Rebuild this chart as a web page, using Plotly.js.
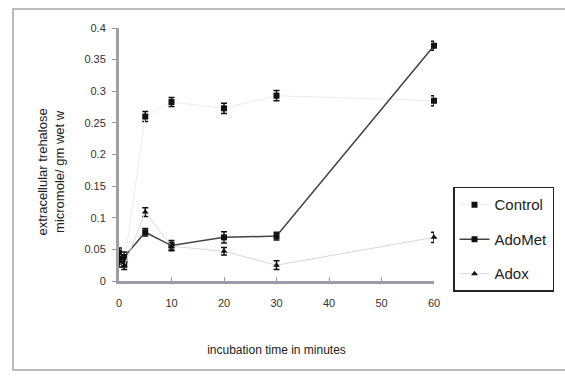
<!DOCTYPE html>
<html><head><meta charset="utf-8">
<script src="https://cdn.plot.ly/plotly-3.0.1.min.js"></script>
<style>
html,body{margin:0;padding:0;background:#fff;}
#frame{position:absolute;left:12px;top:8px;width:560px;height:363px;border:2px solid #bbb;box-sizing:border-box;}
#chart{position:absolute;left:0;top:0;width:565px;height:378px;}
</style></head>
<body>
<div id="frame"></div>
<div id="chart"></div>
<script>
const times = [0, 1, 5, 10, 20, 30, 60];
const tickVals = [0, 10, 20, 30, 40, 50, 60];
const tickText = ['0', '10', '20', '30', '40', '50', '60'];
const control = [0.035, 0.028, 0.26, 0.283, 0.273, 0.293, 0.285];
const controlErr = [0.008, 0.006, 0.008, 0.007, 0.008, 0.008, 0.008];
const adoMet = [0.045, 0.038, 0.077, 0.056, 0.069, 0.071, 0.372];
const adoMetErr = [0.007, 0.008, 0.006, 0.008, 0.009, 0.006, 0.007];
const adox = [0.03, 0.024, 0.109, 0.055, 0.047, 0.025, 0.069];
const adoxErr = [0.008, 0.006, 0.007, 0.006, 0.006, 0.007, 0.008];
const yTitle = 'extracellular trehalose<br>micromole/ gm wet w';

function errObj(a){return {type:'data', array:a, visible:true, color:'#111', thickness:1.5, width:3};}

const traces = [
  {x: times, y: control, name: 'Control', legendgroup:'a', mode: 'lines+markers',
   line:{color:'#ececec', width:1}, marker:{symbol:'square', size:6, color:'#111'},
   error_y: errObj(controlErr), cliponaxis:false},
  {x: times, y: adoMet, name: 'AdoMet', legendgroup:'b', mode: 'lines+markers',
   line:{color:'#444', width:1.5}, marker:{symbol:'square', size:6, color:'#111'},
   error_y: errObj(adoMetErr), cliponaxis:false},
  {x: times, y: adox, name: 'Adox', legendgroup:'c', mode: 'lines+markers',
   line:{color:'#d8d8d8', width:1}, marker:{symbol:'triangle-up', size:6, color:'#111'},
   error_y: errObj(adoxErr), cliponaxis:false}
];

const layout = {
  width: 565, height: 378,
  margin: {l:119, r:130, t:28, b:97},
  paper_bgcolor: 'rgba(0,0,0,0)', plot_bgcolor: 'rgba(0,0,0,0)',
  font: {family: 'Arial, Liberation Sans, sans-serif', color:'#222', size:11},
  showlegend: true,
  legend: {x:1.057, y:0.372, xanchor:'left', yanchor:'top', bgcolor:'#fff',
    bordercolor:'#222', borderwidth:1.5, font:{size:15, color:'#222'}, tracegroupgap:12},
  xaxis: {range:[0,60], tickmode:'array', tickvals:tickVals, ticktext:tickText,
    showgrid:false, zeroline:false, showline:true, linecolor:'#9a9aa8', linewidth:2.5,
    ticks:'inside', ticklen:4, tickcolor:'#9a9aa8', tickfont:{size:11, color:'#333'},
    ticklabelstandoff:10,
    title:{text:'incubation time in minutes', font:{size:12, color:'#222'}, standoff:38}},
  yaxis: {range:[0,0.4], dtick:0.05, showgrid:false, zeroline:false,
    showline:true, linecolor:'#a0a0a0', linewidth:3, ticks:'outside', ticklen:4, tickcolor:'#999',
    tickfont:{size:11, color:'#333'}, ticklabelstandoff:4},
  annotations: [{text: yTitle, xref:'paper', yref:'paper', x:-0.215, y:0.43,
    xanchor:'center', yanchor:'middle', textangle:-90, showarrow:false,
    font:{size:13, color:'#222'}}]
};
Plotly.newPlot('chart', traces, layout, {displayModeBar:false, staticPlot:true});
</script>
</body></html>
